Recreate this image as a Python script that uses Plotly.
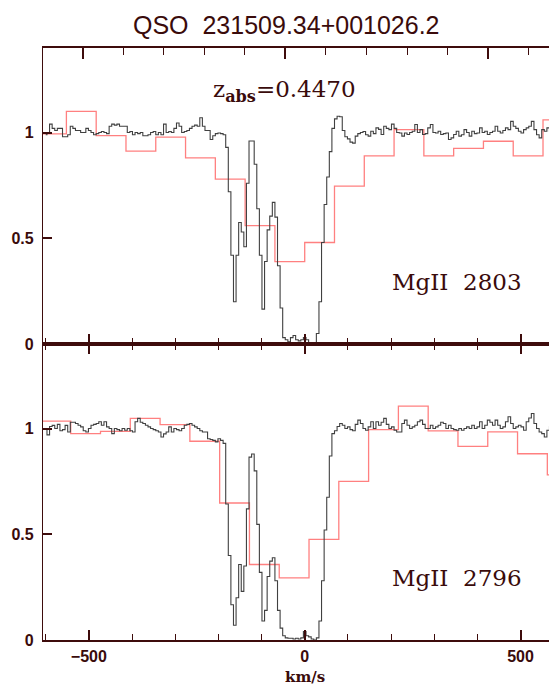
import plotly.graph_objects as go

# ---------------- data ----------------
# Black spectra: pixel fluxes on a 6 km/s grid, split into three segments each.
dv_pix = 6.0
seg_start = [-600.0, -180.0, 90.0]

flux2803_blue = [0.99, 1.00, 1.04, 1.02, 1.01, 1.02, 1.02, 0.98, 0.98, 0.99,
                 1.03, 1.02, 1.01, 1.01, 1.00, 1.00, 1.02, 1.01, 1.00, 0.99,
                 0.995, 1.00, 1.005, 1.00, 0.995, 1.03, 1.04, 1.035, 1.04, 1.03,
                 1.03, 1.03, 1.00, 1.005, 0.99, 1.00, 0.995, 1.00, 0.985, 0.985,
                 0.99, 1.00, 1.005, 0.99, 1.00, 0.99, 1.04, 1.00, 1.005, 1.00,
                 1.02, 1.045, 1.03, 1.00, 1.005, 1.01, 1.02, 1.03, 1.035, 1.03,
                 1.07, 1.03, 1.01, 1.01, 0.967, 0.985, 0.995, 0.998, 0.995, 0.99]
flux2803_core = [0.93, 0.72, 0.42, 0.20, 0.42, 0.575, 0.53, 0.46, 0.76, 0.96,
                 0.96, 0.85, 0.64, 0.42, 0.165, 0.39, 0.54, 0.605, 0.67, 0.60,
                 0.37, 0.17, 0.03, 0.02, 0.01, 0.03, 0.04, 0.02, 0.015, 0.02,
                 0.03, 0.02, 0.005, 0.0, 0.0, 0.05, 0.20, 0.48, 0.66, 0.79,
                 0.91, 1.02, 1.065, 1.077, 1.075]
flux2803_red = [1.01, 0.98, 0.97, 0.955, 0.95, 0.983, 0.995, 1.00, 1.005, 0.99,
                0.983, 1.006, 0.995, 1.022, 1.015, 0.991, 1.03, 1.02, 1.014, 1.04,
                1.02, 1.00, 0.998, 0.983, 0.998, 0.991, 1.00, 1.006, 1.038, 1.00,
                1.014, 0.991, 0.995, 1.022, 1.038, 1.00, 0.998, 1.006, 0.991, 0.995,
                0.998, 0.967, 0.975, 0.991, 1.006, 0.983, 0.99, 1.014, 1.00, 0.983,
                1.006, 0.995, 0.998, 1.022, 1.00, 1.006, 0.991, 1.00, 1.006, 1.03,
                1.006, 0.998, 1.01, 1.022, 1.014, 1.053, 1.03, 1.02, 1.006, 0.998,
                1.014, 1.022, 1.03, 1.053, 1.014, 0.99, 0.975, 1.014, 1.006, 1.022,
                1.006, 1.00, 0.998]

flux2796_blue = [1.0, 0.97, 1.01, 1.015, 1.0, 1.02, 0.99, 0.995, 1.015, 0.984,
                 1.03, 1.03, 1.024, 1.016, 1.008, 0.99, 0.984, 1.0, 1.016, 1.02,
                 1.024, 1.032, 1.016, 1.032, 1.008, 1.0, 0.976, 1.0, 0.995, 0.99,
                 1.0, 0.992, 1.0, 0.99, 0.984, 1.032, 1.048, 1.03, 1.024, 1.016,
                 1.008, 1.0, 0.995, 0.99, 0.984, 0.96, 0.975, 0.984, 1.008, 0.984,
                 1.0, 0.995, 0.99, 1.0, 1.016, 1.02, 1.024, 1.016, 1.008, 1.0,
                 0.99, 0.984, 0.984, 0.952, 0.948, 0.944, 0.937, 0.952, 0.944, 0.93]
flux2796_core = [0.643, 0.40, 0.167, 0.07, 0.20, 0.357, 0.23, 0.35, 0.62, 0.865,
                 0.88, 0.80, 0.547, 0.32, 0.09, 0.14, 0.30, 0.373, 0.389, 0.28,
                 0.14, 0.056, 0.02, 0.01, 0.008, 0.008, 0.005, 0.008, 0.005, 0.01,
                 0.04, 0.02, 0.015, 0.005, 0.0, 0.01, 0.09, 0.28, 0.52, 0.675,
                 0.87, 0.976, 0.99, 1.01, 1.024]
flux2796_red = [1.016, 1.0, 1.008, 0.995, 0.99, 1.02, 1.04, 1.024, 1.0, 0.992,
                1.008, 1.032, 1.0, 1.032, 1.016, 1.03, 1.048, 1.02, 1.0, 1.008,
                0.992, 0.984, 0.984, 1.024, 1.04, 1.016, 1.0, 1.008, 1.016, 1.032,
                1.04, 1.02, 1.0, 1.0, 1.016, 1.0, 1.008, 1.016, 1.03, 1.024,
                1.0, 1.016, 1.0, 0.995, 0.992, 1.0, 0.992, 1.0, 1.008, 1.0,
                1.016, 1.0, 1.008, 1.032, 1.0, 1.016, 1.04, 1.03, 1.016, 1.04,
                1.016, 1.0, 1.008, 1.032, 1.056, 1.024, 1.0, 1.008, 1.016, 1.008,
                0.992, 1.032, 1.05, 1.071, 1.024, 1.0, 0.984, 0.976, 0.96, 0.992,
                1.008, 1.0, 1.0]

# Red (low-resolution) histograms: bin left edges (km/s) and values
bin_width = 69.0
bins2803_left = [-621, -552, -483, -414, -345, -276, -207, -138, -69,
                 0, 69, 138, 207, 276, 345, 414, 483, 552]
hist2803 = [0.994, 1.10, 0.986, 0.912, 0.978, 0.88, 0.78, 0.56, 0.39,
            0.48, 0.747, 0.89, 1.014, 0.89, 0.925, 0.959, 0.89, 1.06]
bins2796_left = [-611, -542, -473, -404, -335, -266, -197, -128, -59,
                 10, 79, 148, 217, 286, 355, 424, 493, 562]
hist2796 = [1.035, 0.976, 0.987, 1.048, 1.019, 0.94, 0.648, 0.357, 0.294,
            0.476, 0.75, 0.995, 1.106, 0.989, 0.916, 0.984, 0.881, 0.781]

x_tickvals = [-500, 0, 500]
y_tickvals = [0, 0.5, 1]
y_ticktext = ["0", "0.5", "1"]

title_text = "QSO\u00a0\u00a0231509.34+001026.2"
zabs_text = "z<sub><b>abs</b></sub>=0.4470"
label_top = "MgII\u00a0\u00a02803"
label_bot = "MgII\u00a0\u00a02796"
xlabel = "km/s"

# ---------------- build ----------------
def spectrum(segments):
    xs, ys = [], []
    for start, seg in zip(seg_start, segments):
        for i, f in enumerate(seg):
            xs.append(start + dv_pix * i)
            ys.append(f)
    return xs, ys

def histo(left, vals):
    xs = list(left) + [left[-1] + bin_width]
    ys = list(vals) + [vals[-1]]
    return xs, ys

FRAME = "#3e0c0c"
TXT = "#3a0b0b"
BLACK = "#404040"
RED = "#ff8080"
XR = [-606.2, 584.4]

fig = go.Figure()
vx, fy = spectrum([flux2803_blue, flux2803_core, flux2803_red])
hx, hy = histo(bins2803_left, hist2803)
fig.add_trace(go.Scatter(x=hx, y=hy, mode="lines", line=dict(color=RED, width=1.3, shape="hv"),
                         xaxis="x", yaxis="y", hoverinfo="skip"))
fig.add_trace(go.Scatter(x=vx, y=fy, mode="lines", line=dict(color=BLACK, width=1.1, shape="hvh"),
                         xaxis="x", yaxis="y", hoverinfo="skip"))
vx2, fy2 = spectrum([flux2796_blue, flux2796_core, flux2796_red])
hx2, hy2 = histo(bins2796_left, hist2796)
fig.add_trace(go.Scatter(x=hx2, y=hy2, mode="lines", line=dict(color=RED, width=1.3, shape="hv"),
                         xaxis="x2", yaxis="y2", hoverinfo="skip"))
fig.add_trace(go.Scatter(x=vx2, y=fy2, mode="lines", line=dict(color=BLACK, width=1.1, shape="hvh"),
                         xaxis="x2", yaxis="y2", hoverinfo="skip"))
# empty traces so that the overlay (frame-tick) axes get drawn
for xa, ya in [("x3", "y"), ("x", "y3"), ("x2", "y4")]:
    fig.add_trace(go.Scatter(x=[], y=[], mode="lines", xaxis=xa, yaxis=ya, hoverinfo="skip"))

tickfont = dict(family="Liberation Sans", size=16, color=TXT, weight="bold")

common_x = dict(range=XR, showgrid=False, zeroline=False, showline=True, linecolor=FRAME,
                linewidth=2, ticks="inside", tickcolor=FRAME, tickwidth=1.5, ticklen=10,
                tickvals=x_tickvals,
                minor=dict(dtick=100, tick0=0, ticks="inside", ticklen=6, tickcolor=FRAME, tickwidth=1.3))
common_y = dict(range=[0, 1.4], showgrid=False, zeroline=False, showline=True, linecolor=FRAME,
                linewidth=1.2, ticks="inside", tickcolor=FRAME, tickwidth=1.5, ticklen=9,
                tickvals=y_tickvals, ticktext=y_ticktext, tickfont=tickfont, ticklabelstandoff=5)

# page has an 8px body margin: figure is placed at (8, 8)
fig.update_layout(
    width=549, height=682,
    margin=dict(l=35, r=0, t=40, b=50),
    paper_bgcolor="white", plot_bgcolor="white",
    showlegend=False,
    xaxis=dict(**common_x, domain=[0, 1], anchor="y", showticklabels=False),
    xaxis2=dict(**common_x, domain=[0, 1], anchor="y2", matches="x", mirror="ticks",
                showticklabels=True, tickfont=tickfont, ticklabelstandoff=1),
    xaxis3=dict(range=XR, overlaying="x", anchor="y", side="top", showgrid=False, zeroline=False,
                showline=True, linecolor=FRAME, linewidth=2, ticks="inside", tickcolor=FRAME,
                tickwidth=1.5, ticklen=11, tick0=-44.7, dtick=469.5, showticklabels=False,
                minor=dict(tick0=-44.7, dtick=93.9, ticks="inside", ticklen=7, tickcolor=FRAME, tickwidth=1.3)),
    yaxis=dict(**common_y, domain=[0.5, 1], anchor="x"),
    yaxis2=dict(**common_y, domain=[0, 0.5], anchor="x2"),
    yaxis3=dict(range=[0, 1.4], overlaying="y", anchor="x", side="right", showgrid=False, zeroline=False,
                showline=False, ticks="inside", tickcolor=FRAME, tickwidth=1.5, ticklen=4,
                tickvals=[0.5, 1], showticklabels=False),
    yaxis4=dict(range=[0, 1.4], overlaying="y2", anchor="x2", side="right", showgrid=False, zeroline=False,
                showline=False, ticks="inside", tickcolor=FRAME, tickwidth=1.5, ticklen=4,
                tickvals=[0.5, 1], showticklabels=False),
)

serif = "DejaVu Serif"
fig.add_annotation(text=title_text, xref="paper", yref="paper", x=0.473, y=1.066,
                   xanchor="center", yanchor="top", showarrow=False,
                   font=dict(family="Liberation Sans", size=25, color=TXT))
fig.add_annotation(text=zabs_text, xref="paper", yref="paper", x=0.327, y=0.927,
                   xanchor="left", yanchor="middle", showarrow=False,
                   font=dict(family=serif, size=23, color=TXT))
fig.add_annotation(text=label_top, xref="paper", yref="paper", x=0.675, y=0.605,
                   xanchor="left", yanchor="middle", showarrow=False,
                   font=dict(family=serif, size=23, color=TXT))
fig.add_annotation(text=label_bot, xref="paper", yref="paper", x=0.675, y=0.105,
                   xanchor="left", yanchor="middle", showarrow=False,
                   font=dict(family=serif, size=23, color=TXT))
fig.add_annotation(text=xlabel, xref="paper", yref="paper", x=0.5097, y=-0.0625,
                   xanchor="center", yanchor="middle", showarrow=False,
                   font=dict(family=serif, size=15, color=TXT, weight="bold"))

fig.write_html("out.html")
